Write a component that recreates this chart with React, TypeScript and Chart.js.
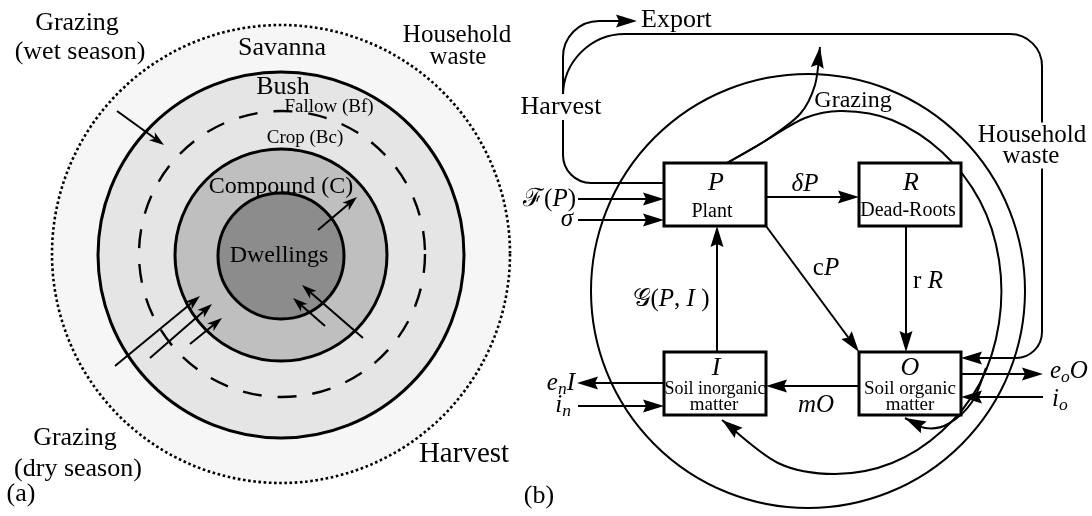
import React, { useEffect, useRef } from 'react';
import { Chart, registerables } from 'chart.js';

Chart.register(...registerables);

// ---------------- DATA (diagram units: x 0..1092, y 0..516 downward) ----------------
// Panel (a): concentric land-use rings
const ringNames = ['Savanna', 'Bush', 'Fallow / Crop boundary', 'Compound', 'Dwellings'];
const ringCenterX = [281, 281, 282, 281, 281];
const ringCenterY = [254, 255, 254, 255, 256];
const ringRadii = [229, 183, 143, 106, 63];

// Panel (a): flow arrows
const aArrowNames = ['wet grazing', 'dwellings out', 'dry 1', 'dry 2', 'dry 3', 'harvest 1', 'harvest 2'];
const aArrowFrom = [[117, 111], [318, 230], [115, 366], [150, 358], [190, 344], [363, 338], [325, 326]];
const aArrowTo = [[164, 145], [357, 197], [200, 296], [212, 304], [222, 318], [302, 285], [293, 298]];

// Panel (a): labels
const aLabels = ['Grazing', '(wet season)', 'Savanna', 'Household', 'waste', 'Bush', 'Fallow (Bf)', 'Crop (Bc)', 'Compound (C)', 'Dwellings', 'Grazing', '(dry season)', '(a)', 'Harvest'];
const aLabelX = [77, 80, 282, 457, 458, 283, 329, 305, 281, 279, 75, 78, 21, 464];
const aLabelY = [23, 52, 48, 35, 57, 87, 107, 138, 187, 256, 438, 469, 494, 454];
const aLabelSize = [26, 26, 26, 25, 25, 26, 19, 19, 24, 24, 26, 26, 26, 29];

// Panel (b): compartments [left, top, right, bottom]
const boxNames = ['P', 'R', 'I', 'O'];
const boxLeft = [664, 859, 664, 859];
const boxTop = [163, 163, 352, 352];
const boxRight = [766, 961, 766, 961];
const boxBottom = [226, 226, 415, 415];

// Panel (b): big circle [cx, cy, r]
const bigCircle = [808, 291, 217];

// Panel (b): straight flows
const flowNames = ['F(P)', 'sigma', 'deltaP', 'rR', 'cP', 'G(P,I)', 'mO', 'e_nI', 'i_n', 'e_oO', 'i_o'];
const flowFrom = [[578, 199], [578, 220], [766, 197], [906, 226], [766, 226], [717, 352], [859, 386], [664, 383], [578, 406], [961, 374], [1043, 397]];
const flowTo = [[664, 199], [664, 220], [859, 197], [906, 352], [859, 352], [717, 226], [766, 386], [577, 383], [664, 406], [1043, 374], [961, 397]];

// Panel (b): rounded polylines (corner radii per interior vertex)
const harvestPts = [[664, 183], [563, 183], [563, 21], [637, 21]];
const harvestRadii = [28, 36];
const householdPts = [[563, 130], [563, 34], [1042, 34], [1042, 358], [961, 358]];
const householdRadii = [62, 32, 26];

// Panel (b): smooth curves
const grazingUpPts = [[727, 163], [765, 141], [800, 114], [815, 85], [820, 47]];
const grazingReturnPts = [[727, 163], [765, 141], [805, 118], [842, 111], [892, 120], [942, 152], [980, 201], [999, 260], [999, 323], [980, 383], [942, 431], [892, 463], [835, 474], [778, 463], [722, 420]];
const toOrganicPts = [[986, 368], [972, 402], [948, 424], [925, 428], [905, 418]];

// Panel (b): labels (rich segments)
type Seg = { t: string; it?: boolean; sub?: boolean };
const bLabels: Seg[][] = [
  [{ t: 'Export' }],
  [{ t: 'Harvest' }],
  [{ t: 'Grazing' }],
  [{ t: 'Household' }],
  [{ t: 'waste' }],
  [{ t: 'ℱ' }, { t: '(' }, { t: 'P', it: true }, { t: ')' }],
  [{ t: 'σ', it: true }],
  [{ t: 'δ', it: true }, { t: 'P', it: true }],
  [{ t: 'P', it: true }],
  [{ t: 'Plant' }],
  [{ t: 'R', it: true }],
  [{ t: 'Dead-Roots' }],
  [{ t: 'c' }, { t: 'P', it: true }],
  [{ t: 'r ' }, { t: 'R', it: true }],
  [{ t: '𝒢' }, { t: '(' }, { t: 'P', it: true }, { t: ', ' }, { t: 'I', it: true }, { t: ' )' }],
  [{ t: 'I', it: true }],
  [{ t: 'Soil inorganic' }],
  [{ t: 'matter' }],
  [{ t: 'O', it: true }],
  [{ t: 'Soil organic' }],
  [{ t: 'matter' }],
  [{ t: 'm', it: true }, { t: 'O', it: true }],
  [{ t: 'e', it: true }, { t: 'n', it: true, sub: true }, { t: 'I', it: true }],
  [{ t: 'i', it: true }, { t: 'n', it: true, sub: true }],
  [{ t: 'e', it: true }, { t: 'o', it: true, sub: true }, { t: 'O', it: true }],
  [{ t: 'i', it: true }, { t: 'o', it: true, sub: true }],
  [{ t: '(b)' }],
];
const bLabelX = [641, 561, 853, 1032, 1031, 576, 573, 805, 716, 712, 911, 908, 826, 928, 671, 716, 715, 714, 910, 910, 910, 816, 575, 571, 1050, 1052, 539];
const bLabelY = [20, 107, 101, 135, 156, 199, 219, 184, 183, 212, 183, 211, 268, 281, 299, 368, 389, 405, 368, 389, 405, 405, 383, 405, 371, 399, 496];
const bLabelSize = [26, 26, 24, 25, 25, 25, 25, 25, 26, 20, 26, 20, 25, 25, 25, 26, 18, 19, 26, 19, 19, 25, 25, 25, 25, 25, 26];
const bLabelAlign = ['left', 'center', 'center', 'center', 'center', 'right', 'right', 'center', 'center', 'center', 'center', 'center', 'center', 'center', 'center', 'center', 'center', 'center', 'center', 'center', 'center', 'center', 'right', 'right', 'left', 'left', 'center'];
const bLabelBg = [false, true, false, true, true, false, false, false, false, false, false, false, false, false, false, false, false, false, false, false, false, false, false, false, false, false, false];

// ---------------- STYLE ----------------
const SERIF = "'Liberation Serif', 'DejaVu Serif', serif";
const ringFill = ['#f6f6f6', '#e5e5e5', '', '#bfbfbf', '#8c8c8c'];
const ringDash = [[2.6, 2.6], [], [19, 16], [], []];
const ringWidth = [2.6, 3, 2.4, 3, 3];

const diagramPlugin = {
  id: 'diagram',
  afterDatasetsDraw(chart: any) {
    const ctx: CanvasRenderingContext2D = chart.ctx;
    const xs = chart.scales.x;
    const ys = chart.scales.y;
    const X = (v: number) => xs.getPixelForValue(v);
    const Y = (v: number) => ys.getPixelForValue(v);
    const Lx = (r: number) => Math.abs(X(r) - X(0));

    const head = (tx: number, ty: number, ux: number, uy: number, len: number, hw: number, inset: number) => {
      const bx = tx - ux * len, by = ty - uy * len;
      const nx = -uy, ny = ux;
      ctx.beginPath();
      ctx.moveTo(tx, ty);
      ctx.lineTo(bx + nx * hw, by + ny * hw);
      ctx.lineTo(tx - ux * (len - inset), ty - uy * (len - inset));
      ctx.lineTo(bx - nx * hw, by - ny * hw);
      ctx.closePath();
      ctx.fill();
    };

    const straightArrow = (p0: number[], p1: number[], lw: number, len: number, hw: number, inset: number) => {
      const x0 = X(p0[0]), y0 = Y(p0[1]), x1 = X(p1[0]), y1 = Y(p1[1]);
      const d = Math.hypot(x1 - x0, y1 - y0);
      const ux = (x1 - x0) / d, uy = (y1 - y0) / d;
      ctx.lineWidth = lw;
      ctx.beginPath();
      ctx.moveTo(x0, y0);
      ctx.lineTo(x1 - ux * (len - inset), y1 - uy * (len - inset));
      ctx.stroke();
      head(x1, y1, ux, uy, len, hw, inset);
    };

    const spline = (pts: number[][], lw: number, arrow: boolean) => {
      const P = pts.map((p) => [X(p[0]), Y(p[1])]);
      ctx.lineWidth = lw;
      ctx.beginPath();
      ctx.moveTo(P[0][0], P[0][1]);
      let lastC2 = P[0];
      for (let i = 0; i < P.length - 1; i++) {
        const p0 = P[i - 1] || P[i];
        const p1 = P[i];
        const p2 = P[i + 1];
        const p3 = P[i + 2] || p2;
        const c1 = [p1[0] + (p2[0] - p0[0]) / 6, p1[1] + (p2[1] - p0[1]) / 6];
        const c2 = [p2[0] - (p3[0] - p1[0]) / 6, p2[1] - (p3[1] - p1[1]) / 6];
        ctx.bezierCurveTo(c1[0], c1[1], c2[0], c2[1], p2[0], p2[1]);
        lastC2 = c2;
      }
      ctx.stroke();
      if (arrow) {
        const e = P[P.length - 1];
        const d = Math.hypot(e[0] - lastC2[0], e[1] - lastC2[1]);
        head(e[0], e[1], (e[0] - lastC2[0]) / d, (e[1] - lastC2[1]) / d, 21, 6.5, 3);
      }
    };

    const rounded = (pts: number[][], radii: number[], lw: number, arrow: boolean) => {
      const P = pts.map((p) => [X(p[0]), Y(p[1])]);
      ctx.lineWidth = lw;
      const e = P[P.length - 1];
      const pr = P[P.length - 2];
      const d = Math.hypot(e[0] - pr[0], e[1] - pr[1]);
      const ux = (e[0] - pr[0]) / d, uy = (e[1] - pr[1]) / d;
      ctx.beginPath();
      ctx.moveTo(P[0][0], P[0][1]);
      for (let i = 1; i < P.length - 1; i++) {
        ctx.arcTo(P[i][0], P[i][1], P[i + 1][0], P[i + 1][1], Lx(radii[i - 1]));
      }
      if (arrow) ctx.lineTo(e[0] - ux * 18, e[1] - uy * 18);
      else ctx.lineTo(e[0], e[1]);
      ctx.stroke();
      if (arrow) head(e[0], e[1], ux, uy, 21, 6.5, 3);
    };

    const drawRich = (segs: Seg[], x: number, y: number, size: number, align: string, bg: boolean) => {
      const parts = segs.map((s) => {
        const fs = s.sub ? size * 0.7 : size;
        const font = `${s.it ? 'italic ' : ''}${fs}px ${SERIF}`;
        ctx.font = font;
        return { s, font, w: ctx.measureText(s.t).width, dy: s.sub ? size * 0.24 : 0 };
      });
      const total = parts.reduce((a, p) => a + p.w, 0);
      let cx = align === 'left' ? x : align === 'right' ? x - total : x - total / 2;
      if (bg) {
        ctx.fillStyle = '#ffffff';
        ctx.fillRect(cx - 3, y - size * 0.5, total + 6, size * 1.0);
        ctx.fillStyle = '#000000';
      }
      ctx.textAlign = 'left';
      ctx.textBaseline = 'middle';
      for (const p of parts) {
        ctx.font = p.font;
        ctx.fillText(p.s.t, cx, y + p.dy);
        cx += p.w;
      }
    };

    ctx.save();
    ctx.strokeStyle = '#000';
    ctx.fillStyle = '#000';
    ctx.lineCap = 'butt';
    ctx.lineJoin = 'miter';

    // ---- Panel (a) rings ----
    for (let i = 0; i < ringRadii.length; i++) {
      ctx.beginPath();
      ctx.arc(X(ringCenterX[i]), Y(ringCenterY[i]), Lx(ringRadii[i]), 0, Math.PI * 2);
      if (ringFill[i]) {
        ctx.fillStyle = ringFill[i];
        ctx.fill();
      }
      ctx.setLineDash(ringDash[i]);
      ctx.lineWidth = ringWidth[i];
      ctx.strokeStyle = '#000';
      ctx.stroke();
    }
    ctx.setLineDash([]);
    ctx.fillStyle = '#000';

    // ---- Panel (a) arrows ----
    for (let i = 0; i < aArrowFrom.length; i++) {
      straightArrow(aArrowFrom[i], aArrowTo[i], 2, 15, 5, 4);
    }

    // ---- Panel (a) labels ----
    for (let i = 0; i < aLabels.length; i++) {
      drawRich([{ t: aLabels[i] }], X(aLabelX[i]), Y(aLabelY[i]), aLabelSize[i], 'center', false);
    }

    // ---- Panel (b) ----
    ctx.lineWidth = 2;
    ctx.beginPath();
    ctx.arc(X(bigCircle[0]), Y(bigCircle[1]), Lx(bigCircle[2]), 0, Math.PI * 2);
    ctx.stroke();

    rounded(harvestPts, harvestRadii, 2, true);
    rounded(householdPts, householdRadii, 2, true);
    spline(grazingReturnPts, 2, true);
    spline(grazingUpPts, 2, true);
    spline(toOrganicPts, 2, true);

    for (let i = 0; i < flowFrom.length; i++) {
      straightArrow(flowFrom[i], flowTo[i], 2, 21, 6.5, 3);
    }

    for (let i = 0; i < boxNames.length; i++) {
      const l = X(boxLeft[i]), t = Y(boxTop[i]), r = X(boxRight[i]), b = Y(boxBottom[i]);
      ctx.fillStyle = '#fff';
      ctx.fillRect(l, t, r - l, b - t);
      ctx.lineWidth = 3;
      ctx.strokeStyle = '#000';
      ctx.strokeRect(l, t, r - l, b - t);
    }
    ctx.fillStyle = '#000';

    for (let i = 0; i < bLabels.length; i++) {
      drawRich(bLabels[i], X(bLabelX[i]), Y(bLabelY[i]), bLabelSize[i], bLabelAlign[i], bLabelBg[i]);
    }

    ctx.restore();
  },
};

export default function App() {
  const ref = useRef<HTMLCanvasElement | null>(null);
  useEffect(() => {
    if (!ref.current) return;
    const chart = new Chart(ref.current, {
      type: 'scatter',
      data: {
        datasets: [
          {
            label: 'compartments',
            data: boxNames.map((_, i) => ({ x: (boxLeft[i] + boxRight[i]) / 2, y: (boxTop[i] + boxBottom[i]) / 2 })),
            pointRadius: 0,
            showLine: false,
          },
        ],
      },
      options: {
        responsive: false,
        animation: false,
        layout: { padding: 0 },
        plugins: { legend: { display: false }, tooltip: { enabled: false } },
        events: [],
        scales: {
          x: { type: 'linear', min: 0, max: 1092, display: false },
          y: { type: 'linear', min: 0, max: 516, reverse: true, display: false },
        },
      },
      plugins: [diagramPlugin],
    });
    return () => chart.destroy();
  }, []);
  return (
    <div style={{ position: 'fixed', left: 0, top: 0, width: 1092, height: 516, background: '#fff' }}>
      <canvas ref={ref} width={1092} height={516} style={{ display: 'block' }} />
    </div>
  );
}
